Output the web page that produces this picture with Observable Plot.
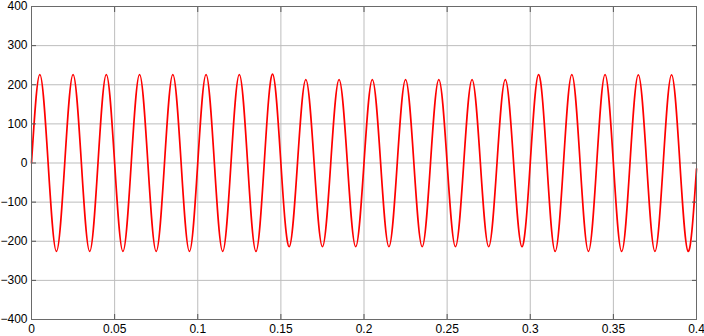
<!DOCTYPE html>
<html>
<head>
<meta charset="utf-8">
<script src="https://cdn.jsdelivr.net/npm/d3@7"></script>
<script src="https://cdn.jsdelivr.net/npm/@observablehq/plot@0.6"></script>
<style>
  html, body { margin: 0; padding: 0; background: #fff; }
  #chart { width: 704px; height: 336px; }
</style>
</head>
<body>
<div id="chart"></div>
<script>
// Tick labels
const xTicks = [0, 0.05, 0.1, 0.15, 0.2, 0.25, 0.3, 0.35, 0.4];
const yTicks = [-400, -300, -200, -100, 0, 100, 200, 300, 400];

// Waveform key points (peaks, troughs, zero crossings)
const peakTimes = [0.005, 0.025, 0.045, 0.065, 0.085, 0.105, 0.125, 0.145, 0.165, 0.185,
                   0.205, 0.225, 0.245, 0.265, 0.285, 0.305, 0.325, 0.345, 0.365, 0.385];
const peakValues = [226, 226, 226, 226, 226, 226, 226, 227, 213, 213,
                    213, 213, 213, 213, 213, 226, 226, 226, 225, 225];
const troughTimes = [0.015, 0.035, 0.055, 0.075, 0.095, 0.115, 0.135, 0.155, 0.175, 0.195,
                     0.215, 0.235, 0.255, 0.275, 0.295, 0.315, 0.335, 0.355, 0.375, 0.395];
const troughValues = [-226, -226, -226, -226, -226, -226, -226, -214, -214, -214,
                      -214, -214, -214, -214, -214, -226, -226, -226, -226, -226];
const zeroTimes = [0, 0.01, 0.02, 0.03, 0.04, 0.05, 0.06, 0.07, 0.08, 0.09, 0.1,
                   0.11, 0.12, 0.13, 0.14, 0.15, 0.16, 0.17, 0.18, 0.19, 0.2,
                   0.21, 0.22, 0.23, 0.24, 0.25, 0.26, 0.27, 0.28, 0.29, 0.3,
                   0.31, 0.32, 0.33, 0.34, 0.35, 0.36, 0.37, 0.38, 0.39, 0.4];
const zeroValues = [0, 0, 0, 0, 0, 0, 0, 0, 0, 0, 0,
                    0, 0, 0, 0, 0, 0, 0, 0, 0, 0,
                    0, 0, 0, 0, 0, 0, 0, 0, 0, 0,
                    0, 0, 0, 0, 0, 0, 0, 0, 0, -15];

const wave = [
  ...peakTimes.map((t, i) => ({t, v: peakValues[i]})),
  ...troughTimes.map((t, i) => ({t, v: troughValues[i]})),
  ...zeroTimes.map((t, i) => ({t, v: zeroValues[i]}))
].sort((a, b) => a.t - b.t);

const font = "'Liberation Sans', Arial, Helvetica, sans-serif";
const fmt = (d) => `${d}`.replace("-", "\u2212");

const chart = Plot.plot({
  width: 704,
  height: 336,
  marginLeft: 31,
  marginRight: 8,
  marginTop: 6,
  marginBottom: 17,
  style: {fontFamily: font, fontSize: "12px", color: "#000", background: "#fff"},
  x: {domain: [0, 0.4], label: null},
  y: {domain: [-400, 400], label: null},
  marks: [
    Plot.gridX(xTicks, {stroke: "#bdbdbd", strokeOpacity: 1}),
    Plot.gridY(yTicks, {stroke: "#bdbdbd", strokeOpacity: 1}),
    Plot.line(wave, {x: "t", y: "v", curve: "natural", stroke: "#ff0000", strokeWidth: 1.7}),
    Plot.axisX(xTicks, {anchor: "bottom", tickSize: 5, insetBottom: 5, text: null, label: null, stroke: "#555"}),
    Plot.axisX(xTicks, {anchor: "top", tickSize: 5, insetTop: 5, text: null, label: null, stroke: "#555"}),
    Plot.axisY(yTicks, {anchor: "left", tickSize: 5, insetLeft: 5, text: null, label: null, stroke: "#555"}),
    Plot.axisY(yTicks, {anchor: "right", tickSize: 5, insetRight: 5, text: null, label: null, stroke: "#555"}),
    Plot.axisX(xTicks, {anchor: "bottom", tickSize: 0, tickPadding: 5, label: null, tickFormat: fmt, fill: "#000", fontSize: 12}),
    Plot.axisY(yTicks, {anchor: "left", tickSize: 0, tickPadding: 4, label: null, tickFormat: fmt, fill: "#000", fontSize: 12}),
    Plot.frame({stroke: "#6a6a6a", strokeWidth: 1})
  ]
});
document.getElementById("chart").appendChild(chart);
</script>
</body>
</html>
